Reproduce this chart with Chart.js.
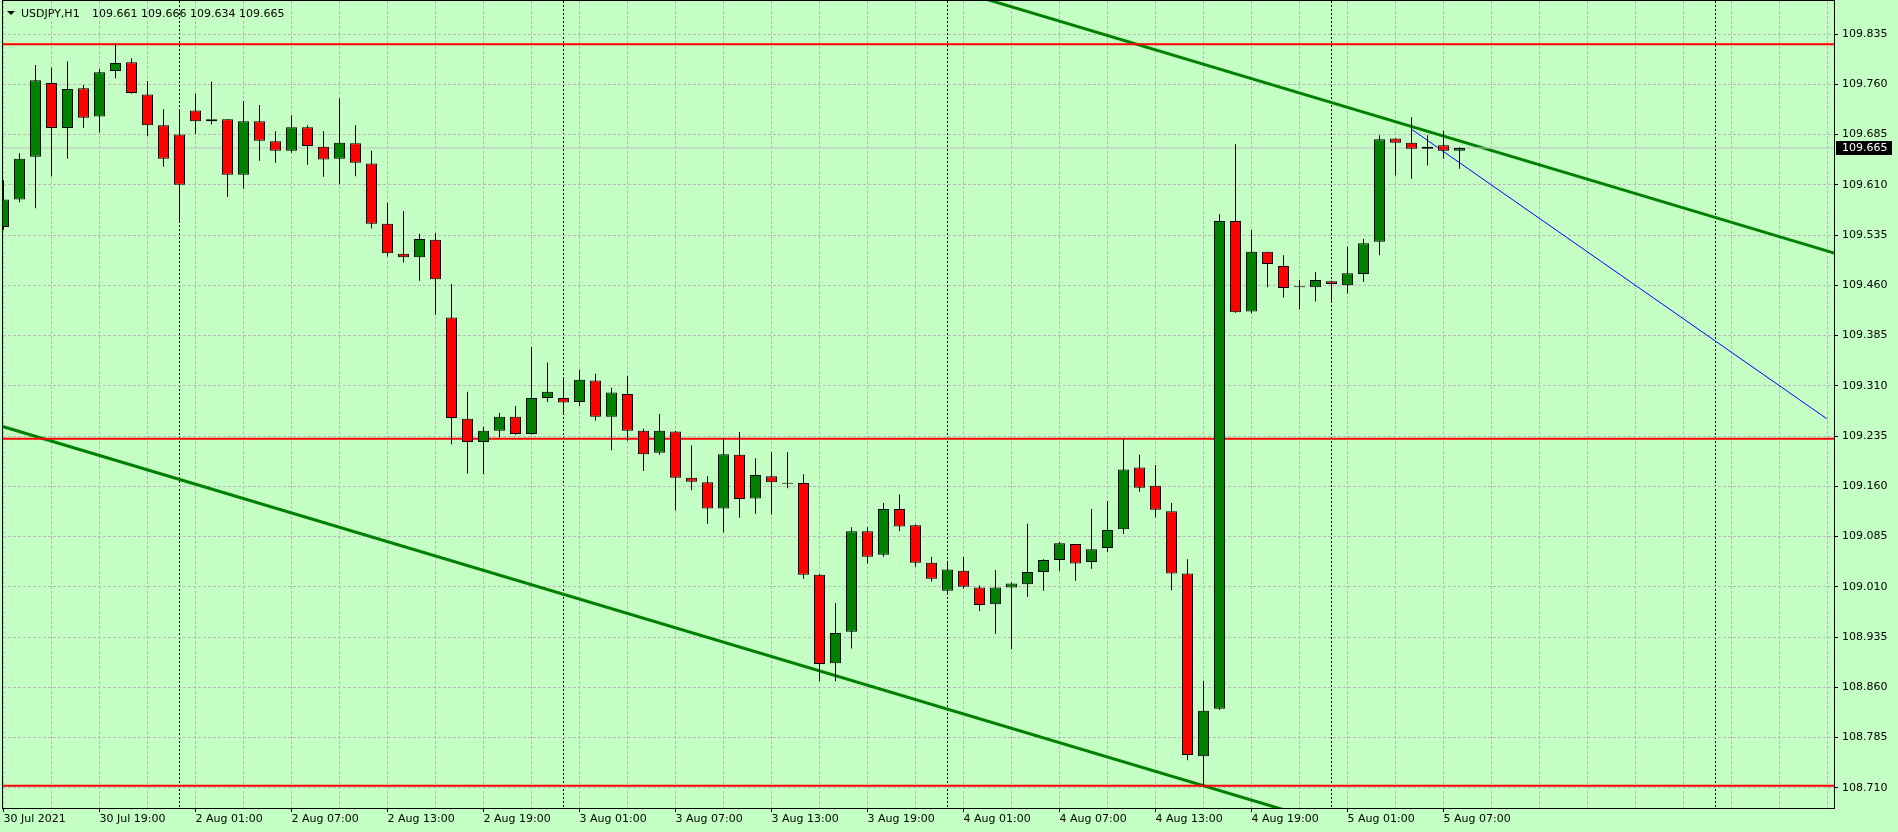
<!DOCTYPE html>
<html>
<head>
<meta charset="utf-8">
<title>USDJPY,H1</title>
<script src="https://cdn.jsdelivr.net/npm/chart.js@4.4.1/dist/chart.umd.min.js"></script>
<style>
	html, body { margin: 0; padding: 0; background: #c4ffc4; overflow: hidden; }
	#grafico { display: block; }
</style>
</head>
<body>
<canvas id="grafico" width="1898" height="832"></canvas>
<script>
const symbol = "USDJPY,H1";

// H1 candles, 30 Jul 13:00 .. 5 Aug 08:00
const opens = [
	109.547, 109.588, 109.652, 109.762, 109.695, 109.754, 109.712, 109.780, 109.793, 109.745,
	109.699, 109.685, 109.721, 109.705, 109.708, 109.625, 109.705, 109.675, 109.661, 109.696,
	109.667, 109.649, 109.672, 109.642, 109.552, 109.507, 109.502, 109.528, 109.412, 109.261,
	109.226, 109.243, 109.264, 109.238, 109.292, 109.292, 109.286, 109.318, 109.264, 109.298,
	109.243, 109.210, 109.242, 109.173, 109.166, 109.127, 109.207, 109.142, 109.175, 109.165,
	109.165, 109.028, 108.896, 108.943, 109.093, 109.058, 109.126, 109.102, 109.046, 109.004,
	109.034, 109.009, 108.984, 109.009, 109.014, 109.032, 109.050, 109.074, 109.047, 109.068,
	109.096, 109.188, 109.161, 109.123, 109.030, 108.757, 108.828, 109.556, 109.421, 109.510,
	109.489, 109.458, 109.457, 109.466, 109.460, 109.477, 109.525, 109.679, 109.673, 109.664,
	109.669, 109.661
];
const highs = [
	109.617, 109.657, 109.789, 109.785, 109.794, 109.759, 109.783, 109.821, 109.799, 109.765,
	109.723, 109.722, 109.746, 109.764, 109.708, 109.735, 109.729, 109.690, 109.714, 109.699,
	109.690, 109.739, 109.699, 109.661, 109.583, 109.571, 109.537, 109.538, 109.462, 109.301,
	109.249, 109.270, 109.280, 109.368, 109.345, 109.321, 109.334, 109.328, 109.307, 109.325,
	109.246, 109.268, 109.243, 109.221, 109.175, 109.232, 109.241, 109.202, 109.211, 109.211,
	109.178, 109.029, 108.986, 109.099, 109.099, 109.135, 109.148, 109.103, 109.055, 109.049,
	109.055, 109.012, 109.035, 109.017, 109.104, 109.051, 109.077, 109.074, 109.126, 109.138,
	109.231, 109.207, 109.192, 109.135, 109.051, 108.870, 109.566, 109.671, 109.543, 109.510,
	109.505, 109.468, 109.480, 109.467, 109.518, 109.529, 109.684, 109.679, 109.711, 109.684,
	109.691, 109.666
];
const lows = [
	109.543, 109.584, 109.575, 109.623, 109.649, 109.695, 109.688, 109.769, 109.746, 109.683,
	109.637, 109.556, 109.686, 109.700, 109.592, 109.604, 109.646, 109.643, 109.658, 109.640,
	109.622, 109.611, 109.623, 109.545, 109.503, 109.494, 109.467, 109.416, 109.223, 109.179,
	109.178, 109.233, 109.237, 109.237, 109.286, 109.270, 109.280, 109.258, 109.214, 109.228,
	109.183, 109.207, 109.124, 109.154, 109.104, 109.091, 109.113, 109.119, 109.118, 109.157,
	109.022, 108.869, 108.869, 108.918, 109.045, 109.055, 109.093, 109.040, 109.018, 108.998,
	109.007, 108.974, 108.940, 108.917, 108.995, 109.004, 109.034, 109.019, 109.037, 109.062,
	109.089, 109.152, 109.114, 109.005, 108.751, 108.713, 108.826, 109.419, 109.418, 109.457,
	109.442, 109.424, 109.436, 109.436, 109.448, 109.465, 109.505, 109.624, 109.619, 109.639,
	109.649, 109.634
];
const closes = [
	109.588, 109.649, 109.766, 109.695, 109.753, 109.710, 109.778, 109.792, 109.747, 109.699,
	109.649, 109.610, 109.705, 109.708, 109.625, 109.705, 109.676, 109.661, 109.696, 109.668,
	109.648, 109.673, 109.643, 109.552, 109.508, 109.502, 109.529, 109.469, 109.262, 109.226,
	109.243, 109.264, 109.238, 109.292, 109.301, 109.285, 109.319, 109.264, 109.300, 109.243,
	109.208, 109.243, 109.173, 109.167, 109.127, 109.208, 109.141, 109.177, 109.166, 109.164,
	109.028, 108.895, 108.941, 109.093, 109.055, 109.126, 109.100, 109.046, 109.022, 109.036,
	109.010, 108.983, 109.009, 109.015, 109.032, 109.050, 109.075, 109.045, 109.066, 109.095,
	109.185, 109.158, 109.125, 109.030, 108.759, 108.825, 109.556, 109.420, 109.510, 109.492,
	109.456, 109.457, 109.468, 109.462, 109.478, 109.523, 109.678, 109.673, 109.664, 109.667,
	109.661, 109.665
];

// one label every 6 bars
const timeLabels = [
	"30 Jul 2021", "30 Jul 19:00", "2 Aug 01:00", "2 Aug 07:00", "2 Aug 13:00", "2 Aug 19:00",
	"3 Aug 01:00", "3 Aug 07:00", "3 Aug 13:00", "3 Aug 19:00", "4 Aug 01:00", "4 Aug 07:00",
	"4 Aug 13:00", "4 Aug 19:00", "5 Aug 01:00", "5 Aug 07:00"
];
const dayStarts = [11, 35, 59, 83, 107];
const priceTicks = [
	108.710, 108.785, 108.860, 108.935, 109.010, 109.085, 109.160, 109.235,
	109.310, 109.385, 109.460, 109.535, 109.610, 109.685, 109.760, 109.835
];

// objects drawn on the chart: [bar, price]
const levels = [109.820, 109.231, 108.713];
const upperTrend = [[55, 109.933], [115, 109.504]];
const lowerTrend = [[-1, 109.256], [90, 108.606]];
const blueTrend = [[88.0, 109.693], [113.95, 109.261]];

const xMin = -0.03125, xMax = 114.40625;
const yMin = 108.6799, yMax = 109.8844;

const bull = "#008000";
const bear = "#ff0000";
const gridColor = "#b8b8b8";
const fonte = "DejaVu Sans";

Init();

function Init()
{
	const last = closes.length - 1;

	const bodies = opens.map((o, i) => ({ x: i, y: [o, closes[i]] }));
	const wicks = lows.map((l, i) => ({ x: i, y: [l, highs[i]] }));
	const bodyColors = opens.map((o, i) => closes[i] >= o ? bull : bear);

	const lineSet = (pts, color, width) => ({
		type: "line",
		data: pts.map(p => ({ x: p[0], y: p[1] })),
		borderColor: color,
		borderWidth: width,
		pointRadius: 0,
		tension: 0,
		fill: false,
		clip: 0,
		order: 3
	});

	const datasets = [
		lineSet([[xMin, closes[last]], [xMax, closes[last]]], "#c0c0c0", 1),
		...levels.map(l => lineSet([[xMin, l], [xMax, l]], "#ff0000", 2)),
		lineSet(upperTrend, "#008000", 3),
		lineSet(lowerTrend, "#008000", 3),
		lineSet(blueTrend, "#0000ff", 1),
		{
			type: "bar",
			data: wicks,
			backgroundColor: "#000",
			borderWidth: 0,
			barThickness: 1,
			grouped: false,
			inflateAmount: 0,
			order: 2
		},
		{
			type: "bar",
			data: bodies,
			backgroundColor: bodyColors,
			borderColor: "#000",
			borderWidth: 1,
			borderSkipped: false,
			barThickness: 11,
			minBarLength: 1,
			grouped: false,
			inflateAmount: 0,
			order: 1
		}
	];

	const tickVal = c => (c && c.tick) ? c.tick.value : null;
	const isDay = c => dayStarts.includes(tickVal(c));
	const isLabelTick = v => v !== null && v % 6 === 0 && v / 6 < timeLabels.length && !dayStarts.includes(v);

	const moldura = {
		id: "moldura",
		afterDraw(chart) {
			const ctx = chart.ctx;
			const a = chart.chartArea;
			const yPix = chart.scales.y.getPixelForValue(closes[last]);
			ctx.save();

			// chart frame
			ctx.strokeStyle = "#000";
			ctx.lineWidth = 1;
			ctx.setLineDash([]);
			ctx.strokeRect(a.left - 0.5, a.top - 0.5, a.right - a.left + 1, a.bottom - a.top + 1);

			// bid label on the price axis
			ctx.fillStyle = "#000";
			ctx.fillRect(a.right + 2, Math.round(yPix) - 7, 56, 14);
			ctx.fillStyle = "#fff";
			ctx.font = "11px '" + fonte + "'";
			ctx.textBaseline = "middle";
			ctx.textAlign = "left";
			ctx.fillText(closes[last].toFixed(3), a.right + 8, Math.round(yPix));

			// header
			ctx.fillStyle = "#000";
			ctx.beginPath();
			ctx.moveTo(a.left + 4, a.top + 10);
			ctx.lineTo(a.left + 12, a.top + 10);
			ctx.lineTo(a.left + 8, a.top + 14);
			ctx.closePath();
			ctx.fill();
			ctx.textBaseline = "alphabetic";
			ctx.fillText(symbol, a.left + 18, a.top + 16);
			const ohlc = [opens[last], highs[last], lows[last], closes[last]].map(v => v.toFixed(3)).join(" ");
			ctx.fillText(ohlc, a.left + 89, a.top + 16);
			ctx.restore();
		}
	};

	new Chart(document.getElementById("grafico").getContext("2d"), {
		type: "bar",
		data: { datasets: datasets },
		options: {
			responsive: false,
			animation: false,
			devicePixelRatio: 1,
			layout: { padding: { left: 3, top: 1, right: 0, bottom: 0 } },
			plugins: { legend: { display: false }, tooltip: { enabled: false } },
			scales: {
				x: {
					type: "linear",
					min: xMin,
					max: xMax,
					offset: false,
					afterBuildTicks: scale => {
						const vals = [];
						for (let v = 0; v <= xMax; v += 3) vals.push(v);
						dayStarts.forEach(d => { if (!vals.includes(d)) vals.push(d); });
						vals.sort((a, b) => a - b);
						scale.ticks = vals.map(v => ({ value: v }));
					},
					afterFit: scale => {
						scale.height = 24;
						scale.paddingLeft = 0;
						scale.paddingRight = 0;
					},
					grid: {
						offset: false,   // bar charts shift grid lines by default
						color: c => isDay(c) ? "#000" : gridColor,
						lineWidth: 1,
						drawTicks: true,
						tickLength: 4,
						tickColor: c => isLabelTick(tickVal(c)) ? "#000" : "rgba(0,0,0,0)",
						tickBorderDash: []
					},
					border: {
						display: false,
						dash: c => isDay(c) ? [2, 2] : [3, 2]
					},
					ticks: {
						autoSkip: false,
						maxRotation: 0,
						minRotation: 0,
						align: "start",
						padding: 1,
						color: "#000",
						font: { family: fonte, size: 11 },
						callback: v => isLabelTick(v) ? timeLabels[v / 6] : ""
					}
				},
				y: {
					type: "linear",
					position: "right",
					min: yMin,
					max: yMax,
					afterBuildTicks: scale => {
						scale.ticks = priceTicks.map(v => ({ value: v }));
					},
					afterFit: scale => {
						scale.width = 64;
						scale.paddingTop = 0;
						scale.paddingBottom = 0;
					},
					grid: {
						color: gridColor,
						lineWidth: 1,
						drawTicks: true,
						tickLength: 4,
						tickColor: "#000",
						tickBorderDash: []
					},
					border: { display: false, dash: [3, 2] },
					ticks: {
						padding: 4,
						color: "#000",
						font: { family: fonte, size: 11 },
						callback: v => v.toFixed(3)
					}
				}
			}
		},
		plugins: [moldura]
	});
}
</script>
</body>
</html>
